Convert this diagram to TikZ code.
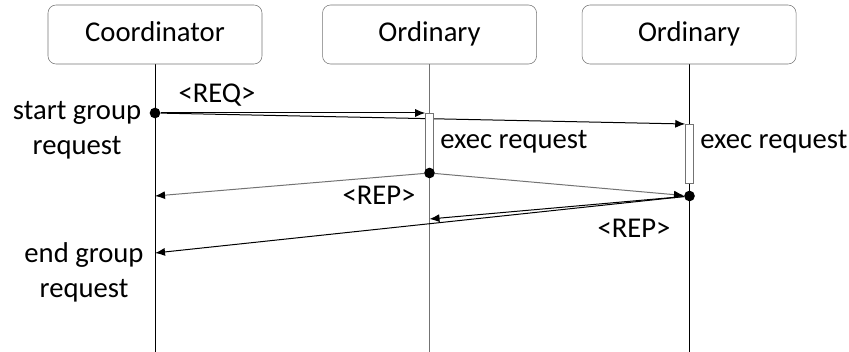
\documentclass[tikz,border=0pt]{standalone}
\usepackage{fontspec}
\setmainfont{Carlito}
\usetikzlibrary{arrows.meta,%
                positioning,%
                backgrounds}

\begin{document}
\begin{tikzpicture}[x=0.75pt,y=-0.75pt,>={Latex[length=7.5pt,width=6pt,color=black]},
                    font=\fontsize{21.5}{26.25}\selectfont]
  \tikzset{actor/.style = {draw=black!55,rounded corners=6pt,minimum width=160.5pt,
                           minimum height=44.25pt,inner sep=0pt,text height=14pt,text depth=4pt}}
  \tikzset{bar/.style = {draw=black!55,fill=white,minimum width=6pt,inner sep=0pt,anchor=north}}
  \tikzset{dot/.style = {circle,fill=black,minimum size=8pt,inner sep=0pt}}
  \tikzset{lbl/.style = {inner sep=0pt}}
  \tikzset{msg/.style = {->,line width=0.75pt}}
  \useasboundingbox (0,0) rectangle (849,352);

  \node[actor] (C) at (155,34.5) {Coordinator};
  \node[actor,right=45pt of C] (O1) {Ordinary};
  \node[actor,right=33.75pt of O1] (O2) {Ordinary};
  \path (C.south) ++(0,288) coordinate (Cend);
  \path (O1.south) ++(0,288) coordinate (O1end);
  \path (O2.south) ++(0,288) coordinate (O2end);

  %activation bars
  \node[bar,minimum height=45pt] (B1) at (429.5,113) {};
  \node[bar,minimum height=44.25pt] (B2) at (689.5,124) {};
  \node[dot] (S) at (155,113) {};
  \node[dot] (E1) at (429.5,173) {};
  \node[dot] (E2) at (689.5,196) {};
  \coordinate (R1) at (155,196);
  \coordinate (R2) at (429.5,219);
  \coordinate (R3) at (155,253);

  \begin{pgfonlayer}{background}
    \draw[line width=0.75pt] (C) -- (Cend);
    \draw[line width=0.75pt,black!55] (O1) -- (O1end);
    \draw[line width=0.75pt] (O2) -- (O2end);
    \draw[msg] (S) -- (B1.north west);
    \draw[msg] (S) -- (B2.north west);
    \draw[msg,black!55] (E1) -- (R1);
    \draw[msg,black!55] (E1) -- (E2);
    \draw[msg] (E2) -- (R2);
    \draw[msg] (E2) -- (R3);
  \end{pgfonlayer}

  \node[lbl] (reqL) at (217,95) {<REQ>};
  \node[lbl] (rep1L) at (379,195) {<REP>};
  \node[lbl] (rep2L) at (634,228) {<REP>};
  \node[lbl,anchor=west] (ex1) at (440,142) {exec request};
  \node[lbl,anchor=west] (ex2) at (700,142) {exec request};
  \node[lbl,align=center] (start) at (77,130) {start group\\request};
  \node[lbl,align=center] (end) at (84,272) {end group\\request};
\end{tikzpicture}
\end{document}
